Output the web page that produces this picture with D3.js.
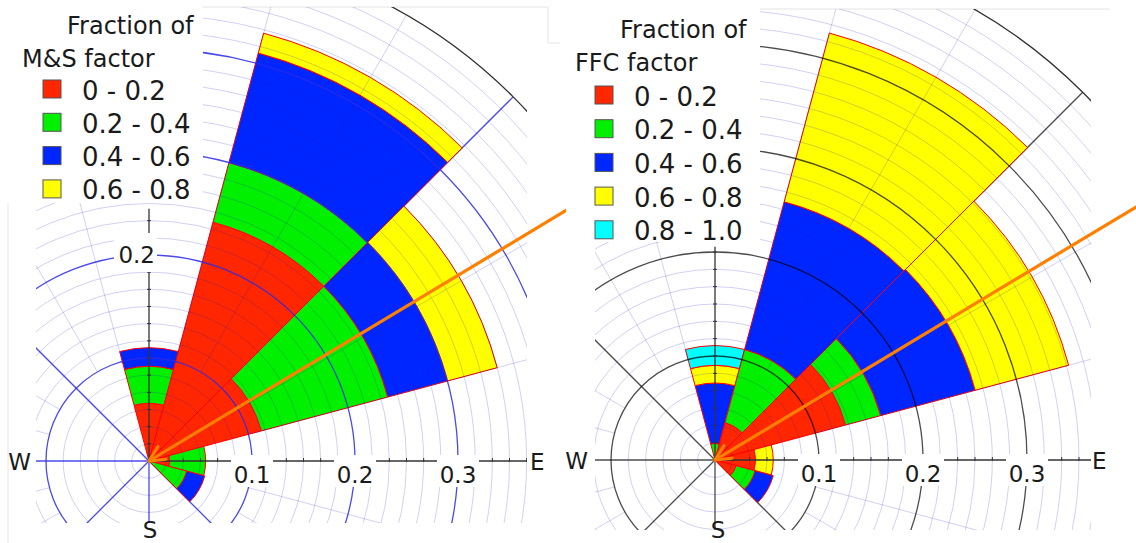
<!DOCTYPE html>
<html>
<head>
<meta charset="utf-8">
<script src="https://cdn.jsdelivr.net/npm/d3@7"></script>
<style>
  body { margin: 0; background: #fff; }
  svg { display: block; }
  text { font-family: "DejaVu Sans", Verdana, sans-serif; fill: #1a1a1a; }
</style>
</head>
<body>
<div id="chart"></div>
<script>
// direction bins, degrees clockwise from north
const sectorFrom = [-15, 15, 45, 75, 105];
const sectorTo = [15, 45, 75, 105, 135];

const msClasses = ["0 - 0.2", "0.2 - 0.4", "0.4 - 0.6", "0.6 - 0.8"];
const ffcClasses = ["0 - 0.2", "0.2 - 0.4", "0.4 - 0.6", "0.6 - 0.8", "0.8 - 1.0"];
const classColors = ["#ff2600", "#00f000", "#0026ff", "#ffff00", "#00ffff"];

// per sector: factor class of each stacked band, and its cumulative outer frequency
const msBandClass = [[0, 1, 2], [0, 1, 2, 3], [0, 1, 2, 3], [0, 1], [1, 2]];
const msBandTop = [
  [0.056, 0.092, 0.110],
  [0.240, 0.300, 0.410, 0.430],
  [0.113, 0.240, 0.300, 0.350],
  [0.020, 0.055],
  [0.038, 0.056]
];
const ffcBandClass = [[1, 2, 3, 4], [0, 1, 2, 3], [0, 1, 2, 3], [0, 3], [0, 1, 2]];
const ffcBandTop = [
  [0.016, 0.074, 0.091, 0.110],
  [0.037, 0.110, 0.257, 0.425],
  [0.130, 0.165, 0.259, 0.352],
  [0.039, 0.056],
  [0.021, 0.040, 0.058]
];

const radialTicks = [0.1, 0.2, 0.3];
const radialTickLabels = ["0.1", "0.2", "0.3"];
const arrowDir = 59;   // orange direction arrow, degrees

const width = 1136, height = 543;
const rad = d => d * Math.PI / 180;

const panels = [
  {
    id: "ms", cx: 149, cy: 461, rmax: 515, clip: [36, 7, 527, 523], legendBox: [0, 0, 203, 203],
    spanX: [0, 566], title: ["Fraction of", "M&S factor"], titleX: [67, 22], titleY: [34, 67],
    classes: msClasses, bandClass: msBandClass, bandTop: msBandTop,
    major: "#2a2ae6", majorOp: 0.85, lx: 43, ly0: 89, lstep: 33.3, ltx: 82,
    nTop: 0.245, nLabel: true, wX: 31, eX: 530, sX: 150, sY: 538
  },
  {
    id: "ffc", cx: 715, cy: 460, rmax: 520, clip: [595, 9, 1091, 530], legendBox: [570, 0, 760, 242],
    spanX: [566, 1136], title: ["Fraction of", "FFC factor"], titleX: [620, 575], titleY: [38, 71],
    classes: ffcClasses, bandClass: ffcBandClass, bandTop: ffcBandTop,
    major: "#000", majorOp: 0.7, lx: 595, ly0: 95, lstep: 33.7, ltx: 634,
    nTop: 0.205, nLabel: false, wX: 588, eX: 1092, sX: 718, sY: 538
  }
];

const svg = d3.select("#chart").append("svg")
  .attr("width", width)
  .attr("height", height);

svg.append("rect").attr("width", width).attr("height", height).attr("fill", "#fff");

// faint screenshot frame lines
const frame = [[62, 7, 548, 7], [548, 7, 548, 43], [548, 43, 560, 43], [8, 43, 8, 543], [620, 9, 1110, 9]];
svg.selectAll(".frame").data(frame).enter().append("line")
  .attr("x1", d => d[0]).attr("y1", d => d[1]).attr("x2", d => d[2]).attr("y2", d => d[3])
  .attr("stroke", "#e4e4e4").attr("stroke-width", 1);

const defs = svg.append("defs");

panels.forEach(p => {
  const r = d3.scaleLinear().domain([0, 0.5]).range([0, p.rmax]);
  const arc = d3.arc();

  defs.append("clipPath").attr("id", "clip-" + p.id)
    .append("rect")
    .attr("x", p.clip[0]).attr("y", p.clip[1])
    .attr("width", p.clip[2] - p.clip[0]).attr("height", p.clip[3] - p.clip[1]);
  defs.append("clipPath").attr("id", "span-" + p.id)
    .append("rect")
    .attr("x", p.spanX[0]).attr("y", 0)
    .attr("width", p.spanX[1] - p.spanX[0]).attr("height", height);

  const plot = svg.append("g").attr("clip-path", "url(#clip-" + p.id + ")");
  const g = plot.append("g").attr("transform", "translate(" + p.cx + "," + p.cy + ")");

  // major spokes sit under the sectors
  const majorSpokes = [45, 135, 180, 225, 270, 315];
  g.selectAll(".spoke").data(majorSpokes).enter().append("line")
    .attr("x1", 0).attr("y1", 0)
    .attr("x2", a => r(0.5) * Math.sin(rad(a)))
    .attr("y2", a => -r(0.5) * Math.cos(rad(a)))
    .attr("stroke", p.major)
    .attr("stroke-opacity", p.majorOp)
    .attr("stroke-width", 1.3);

  // stacked sectors
  const bands = [];
  p.bandTop.forEach((tops, i) => {
    tops.forEach((t, j) => {
      bands.push({
        cls: p.bandClass[i][j],
        innerRadius: r(j ? tops[j - 1] : 0),
        outerRadius: r(t),
        startAngle: rad(sectorFrom[i]),
        endAngle: rad(sectorTo[i])
      });
    });
  });
  g.selectAll(".band").data(bands).enter().append("path")
    .attr("class", "band")
    .attr("d", arc)
    .attr("fill", d => classColors[d.cls])
    .attr("stroke", "#ff0000")
    .attr("stroke-width", 1)
    .attr("stroke-linejoin", "round");

  // minor grid circles and spokes
  const minor = d3.range(1, 31).filter(k => k % 6 !== 0).map(k => k * 0.1 / 6);
  g.selectAll(".minor").data(minor).enter().append("circle")
    .attr("r", d => r(d))
    .attr("fill", "none")
    .attr("stroke", "#1a1ac8")
    .attr("stroke-opacity", 0.2)
    .attr("stroke-width", 1);

  const minorSpokes = d3.range(0, 360, 15).filter(a => a % 45 !== 0);
  g.selectAll(".mspoke").data(minorSpokes).enter().append("line")
    .attr("x1", a => r(0.1) * Math.sin(rad(a)))
    .attr("y1", a => -r(0.1) * Math.cos(rad(a)))
    .attr("x2", a => r(0.5) * Math.sin(rad(a)))
    .attr("y2", a => -r(0.5) * Math.cos(rad(a)))
    .attr("stroke", "#1a1ac8")
    .attr("stroke-opacity", 0.2)
    .attr("stroke-width", 1);

  // major circles
  g.selectAll(".major").data([0.1, 0.2, 0.3, 0.4]).enter().append("circle")
    .attr("r", d => r(d))
    .attr("fill", "none")
    .attr("stroke", p.major)
    .attr("stroke-opacity", p.majorOp)
    .attr("stroke-width", 1.3);
  g.append("circle")
    .attr("r", r(0.5))
    .attr("fill", "none")
    .attr("stroke", "#333")
    .attr("stroke-width", 1.3);

  // E axis and N axis with minor ticks
  const eEnd = p.clip[2] - p.cx;
  g.append("line").attr("x1", 0).attr("y1", 0).attr("x2", eEnd).attr("y2", 0)
    .attr("stroke", "#333").attr("stroke-width", 1.3);
  g.append("line").attr("x1", 0).attr("y1", 0).attr("x2", 0).attr("y2", -r(p.nTop))
    .attr("stroke", "#333").attr("stroke-width", 1.3);

  const eTicks = d3.range(1, 60).map(k => k * 0.1 / 6).filter(v => r(v) < eEnd);
  g.selectAll(".etick").data(eTicks).enter().append("line")
    .attr("x1", d => r(d)).attr("x2", d => r(d))
    .attr("y1", -3).attr("y2", 1)
    .attr("stroke", "#333").attr("stroke-width", 1);
  const nTicks = d3.range(1, 60).map(k => k * 0.1 / 6).filter(v => v < p.nTop);
  g.selectAll(".ntick").data(nTicks).enter().append("line")
    .attr("y1", d => -r(d)).attr("y2", d => -r(d))
    .attr("x1", -2).attr("x2", 2)
    .attr("stroke", "#333").attr("stroke-width", 1);

  // E axis labels on white boxes
  const lab = svg.append("g");
  radialTicks.forEach((v, i) => {
    const x = p.cx + r(v);
    lab.append("rect")
      .attr("x", x - 21).attr("y", p.cy - 6)
      .attr("width", 42).attr("height", 32)
      .attr("fill", "#fff");
    lab.append("text")
      .attr("x", x).attr("y", p.cy + 22)
      .attr("text-anchor", "middle")
      .attr("font-size", 23)
      .text(radialTickLabels[i]);
  });
  if (p.nLabel) {
    const y = p.cy - r(0.2);
    lab.append("rect")
      .attr("x", p.cx - 35).attr("y", y - 22)
      .attr("width", 43).attr("height", 39)
      .attr("fill", "#fff");
    lab.append("text")
      .attr("x", p.cx + 6).attr("y", y + 8)
      .attr("text-anchor", "end")
      .attr("font-size", 23)
      .text(radialTickLabels[1]);
  }
  lab.append("text").attr("x", p.wX).attr("y", p.cy + 9)
    .attr("text-anchor", "end").attr("font-size", 23).text("W");
  lab.append("text").attr("x", p.eX).attr("y", p.cy + 9)
    .attr("font-size", 23).text("E");
  lab.append("text").attr("x", p.sX).attr("y", p.sY)
    .attr("text-anchor", "middle").attr("font-size", 23).text("S");

  // legend
  const lg = svg.append("g");
  lg.append("rect")
    .attr("x", p.legendBox[0]).attr("y", p.legendBox[1])
    .attr("width", p.legendBox[2] - p.legendBox[0])
    .attr("height", p.legendBox[3] - p.legendBox[1])
    .attr("fill", "#fff");
  p.title.forEach((t, i) => {
    lg.append("text")
      .attr("x", p.titleX[i]).attr("y", p.titleY[i])
      .attr("font-size", 24)
      .text(t);
  });
  const items = lg.selectAll(".item").data(p.classes).enter().append("g")
    .attr("transform", (d, i) => "translate(" + p.lx + "," + (p.ly0 + i * p.lstep) + ")");
  items.append("rect")
    .attr("x", 0).attr("y", -9)
    .attr("width", 18).attr("height", 18)
    .attr("fill", (d, i) => classColors[i])
    .attr("stroke", "#555")
    .attr("stroke-width", 1);
  items.append("text")
    .attr("x", p.ltx - p.lx).attr("y", 10.5)
    .attr("font-size", 26)
    .text(d => d);

  // orange direction arrow
  const ag = svg.append("g")
    .attr("clip-path", "url(#span-" + p.id + ")")
    .append("g")
    .attr("transform", "translate(" + p.cx + "," + p.cy + ")");
  const far = r(0.6);
  ag.append("line")
    .attr("x1", 0).attr("y1", 0)
    .attr("x2", far * Math.sin(rad(arrowDir)))
    .attr("y2", -far * Math.cos(rad(arrowDir)))
    .attr("stroke", "#ff8000").attr("stroke-width", 3.2);
  [-27, 25].forEach(da => {
    ag.append("line")
      .attr("x1", 0).attr("y1", 0)
      .attr("x2", 17 * Math.sin(rad(arrowDir + da)))
      .attr("y2", -17 * Math.cos(rad(arrowDir + da)))
      .attr("stroke", "#ff8000").attr("stroke-width", 3.2)
      .attr("stroke-linecap", "round");
  });
});
</script>
</body>
</html>
